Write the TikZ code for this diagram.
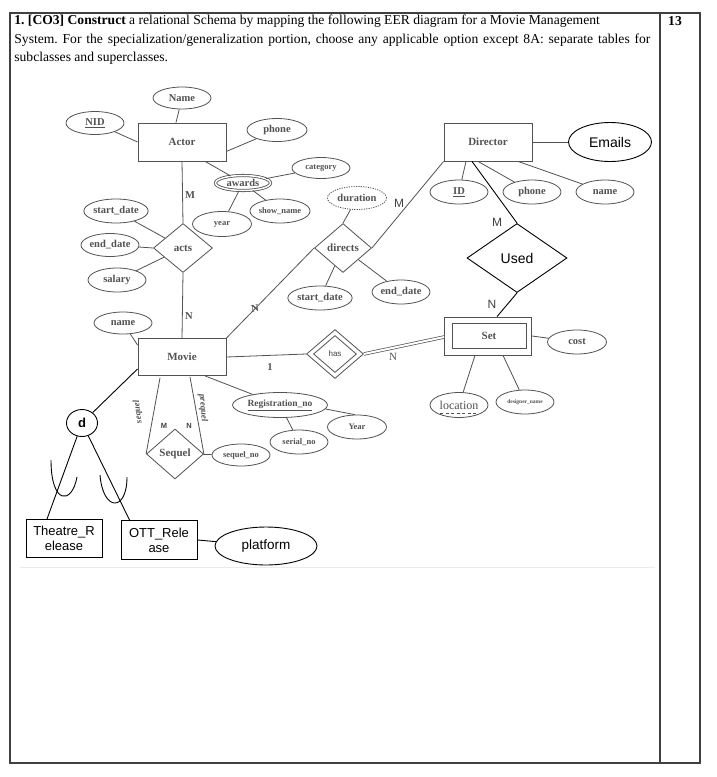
\documentclass[tikz,border=0pt]{standalone}
\usepackage{fontspec}
\setmainfont{Liberation Serif}
\newfontfamily\arialf{Liberation Sans}
\usetikzlibrary{shapes.geometric,calc}
\definecolor{gc}{gray}{0.32}
\definecolor{fc}{gray}{0.25}
\begin{document}
\frenchspacing
\begin{tikzpicture}[x=1pt,y=-1pt,line width=0.8pt,
  ent/.style={draw=gc,text=gc,rectangle,minimum width=88pt,minimum height=38pt,inner sep=0pt,font=\bfseries\fontsize{11}{12}\selectfont},
  att/.style={draw=gc,text=gc,ellipse,minimum width=58pt,minimum height=23pt,inner sep=0pt,font=\bfseries\fontsize{10.5}{12}\selectfont},
  smatt/.style={att,font=\bfseries\fontsize{8.5}{10}\selectfont},
  rel/.style={draw=gc,text=gc,diamond,minimum width=58pt,minimum height=49pt,inner sep=0pt,font=\bfseries\fontsize{11}{12}\selectfont},
  cn/.style={draw=gc,line width=0.8pt},
  dk/.style={draw=black,line width=0.9pt},
  sbox/.style={draw=black,rectangle,line width=0.9pt,inner sep=0pt,align=center,font=\arialf\fontsize{13}{15}\selectfont},
  lbl/.style={text=gc,inner sep=0pt,font=\bfseries\fontsize{10.5}{12}\selectfont},
  slbl/.style={text=fc,inner sep=0pt,font=\arialf\fontsize{11}{12}\selectfont},
  hdr/.style={anchor=west,inner sep=0pt,font=\fontsize{13.6}{15}\selectfont},
]
\useasboundingbox (0,0) rectangle (716,777);
\fill[white] (0,0) rectangle (716,777);
% frame
\draw[line width=1.1pt,draw=black!75] (10,13) rectangle (700,763);
\draw[line width=1.1pt,draw=black!75] (660,13) -- (660,763);
\draw[line width=0.6pt,draw=black!8] (20,567) -- (655,567);
% header
\node[hdr] (h1) at (14,21) {\textbf{1. [CO3] Construct} a relational Schema by mapping the following EER diagram for a Movie Management};
\node[hdr] (h2) at (14,40) {\makebox[636pt][s]{System. For the specialization/generalization portion, choose any applicable option except 8A: separate tables for}};
\node[hdr] (h3) at (14,58) {subclasses and superclasses.};
\node[inner sep=0pt,font=\bfseries\fontsize{13.6}{15}\selectfont] (marks) at (675,21) {13};

% Actor
\node[ent] (Actor) at (182,142) {Actor};
\node[att,minimum height=22pt] (Name) at (182,98) {Name};
\node[att] (NID) at (95,123) {\underline{NID}};
\node[att,minimum width=60pt] (aphone) at (277,130) {phone};
\node[draw=gc,text=gc,ellipse,double,double distance=1.5pt,minimum width=55pt,minimum height=15pt,inner sep=0pt,font=\bfseries\fontsize{10.5}{12}\selectfont] (awards) at (243,183) {awards};
\node[smatt,minimum height=21pt] (category) at (321,168) {category};
\node[smatt,minimum width=59pt,minimum height=24pt] (showname) at (280,211) {show\_name};
\node[smatt,minimum width=59pt,minimum height=25pt] (year) at (222,224) {year};
\node[rel,minimum width=59pt] (acts) at (183,248) {acts};
\node[att,minimum height=24pt] (sdate) at (116,211) {start\_date};
\node[att] (edate) at (110,245) {end\_date};
\node[att,minimum height=24pt] (salary) at (117,280) {salary};
\draw[cn] (NID) -- (Actor.west);
\draw[cn] (Name) -- ($(Actor.north)+(-6,0)$);
\draw[cn] (Actor.-12) -- (aphone);
\draw[cn] (Actor.-40) -- (awards);
\draw[cn] (awards) -- (category);
\draw[cn] (awards) -- (showname);
\draw[cn] (awards) -- (year);
\draw[cn] (Actor.south) -- (acts.north);
\draw[cn] (sdate) -- (acts);
\draw[cn] (edate) -- (acts.west);
\draw[cn] (salary) -- (acts);
\node[lbl] (lM1) at (190,195) {M};

% Movie
\node[ent,minimum height=37pt] (Movie) at (182,357) {Movie};
\node[att,minimum height=22pt] (mname) at (123,323) {name};
\draw[cn] (acts.south) -- (Movie.north);
\node[lbl] (lN1) at (189,316) {N};
\draw[cn] (mname) -- (Movie.165);

% specialization
\node[draw=black,ellipse,line width=0.9pt,minimum width=31pt,minimum height=27pt,inner sep=0pt,font=\arialf\bfseries\fontsize{13}{14}\selectfont] (d) at (82,423) {d};
\node[sbox,minimum width=76pt,minimum height=38pt] (Theatre) at (64,538) {Theatre\_R\\elease};
\node[sbox,minimum width=76pt,minimum height=39pt] (OTT) at (159,540) {OTT\_Rele\\ase};
\node[draw=black,ellipse,line width=0.9pt,minimum width=102pt,minimum height=38pt,inner sep=0pt,font=\arialf\fontsize{13.5}{15}\selectfont] (platform) at (266,546) {platform};
\coordinate (tA) at (47,519);
\coordinate (oA) at (130,521);
\draw[dk] (Movie.195) -- (d);
\draw[dk] (d) -- (tA);
\draw[dk] (d) -- (oA);
\draw[dk] (OTT.east) -- (platform);
\draw[dk] (51,460) .. controls (51,505) and (72,505) .. (77,477);
\draw[dk] (100,475) .. controls (103,512) and (127,512) .. (127,477);

% Sequel
\node[rel,minimum width=57pt,minimum height=50pt] (Sequel) at (175,454) {Sequel};
\node[smatt,minimum height=22pt] (seqno) at (241,455) {sequel\_no};
\draw[cn] ($(Movie.south)+(-22,2)$) -- (Sequel.west);
\draw[cn] ($(Movie.south)+(8,1)$) -- (Sequel.east);
\draw[cn] (Sequel) -- (seqno);
\node[text=gc,inner sep=0pt,rotate=97,font=\bfseries\itshape\fontsize{9}{10}\selectfont] (lsq) at (138,412) {sequel};
\node[text=gc,inner sep=0pt,rotate=-85,font=\bfseries\itshape\fontsize{9}{10}\selectfont] (lpq) at (203,408) {prequel};
\node[text=fc,inner sep=0pt,font=\arialf\bfseries\fontsize{7.5}{9}\selectfont] (lM3) at (164,426) {M};
\node[text=fc,inner sep=0pt,font=\arialf\bfseries\fontsize{7.5}{9}\selectfont] (lN3) at (189,426) {N};

% Registration
\node[att,minimum width=95pt,minimum height=25pt,font=\bfseries\fontsize{9.5}{11}\selectfont] (regno) at (280,405) {\underline{Registration\_no}};
\node[smatt,minimum height=24pt] (serialno) at (299,442) {serial\_no};
\node[smatt,minimum width=59pt,minimum height=24pt] (Year) at (357,427) {Year};
\draw[cn] ($(Movie.south)+(23,0)$) -- (regno);
\draw[cn] (regno) -- (serialno);
\draw[cn] (regno.-5) -- (Year.100);

% has / Set
\node[rel,minimum width=57pt,minimum height=49pt] (has) at (335,354) {};
\node[draw=gc,diamond,minimum width=43pt,minimum height=37pt,inner sep=0pt,text=fc,font=\arialf\fontsize{8}{9}\selectfont] (hasin) at (335,354) {has};
\node[ent,minimum width=87pt,minimum height=38pt] (Set) at (488,336) {};
\node[ent,minimum width=74pt,minimum height=25pt] (Setin) at (489,335.5) {Set};
\node[att,minimum width=59pt,minimum height=24pt] (cost) at (577,342) {cost};
\node[att,minimum height=25pt,font=\fontsize{12}{13}\selectfont] (location) at (459,405) {location};
\node[att,minimum height=24pt,font=\bfseries\fontsize{5.5}{7}\selectfont] (designer) at (525,402) {designer\_name};
\draw[cn] (Movie.east) -- (has.west);
\node[lbl] (l1) at (270,367) {1};
\draw[draw=gc,line width=0.7pt,double,double distance=2pt] (has.east) -- ($(Set.west)+(0,1)$);
\node[lbl,font=\fontsize{11}{12}\selectfont] (lN2) at (393,357) {N};
\draw[cn] (Set.east) -- (cost);
\draw[cn] ($(Set.south)+(-13,0)$) -- (location);
\draw[cn] ($(Set.south)+(15,0)$) -- (designer);
\draw[draw=gc,line width=0.8pt,dashed,dash pattern=on 3pt off 2.5pt] ($(location.center)+(-19,8.5)$) -- ($(location.center)+(19,8.5)$);

% Director
\node[ent] (Director) at (488,142) {Director};
\node[draw=black,ellipse,line width=0.9pt,minimum width=83pt,minimum height=39pt,inner sep=0pt,font=\arialf\fontsize{14}{15}\selectfont] (Emails) at (610,142) {Emails};
\node[att,minimum height=24pt] (ID) at (459,192) {\underline{ID}};
\node[att,minimum height=24pt] (dphone) at (532,192) {phone};
\node[att,minimum height=24pt] (dname) at (605,192) {name};
\draw[cn] (Director.east) -- (Emails);
\draw[cn] ($(Director.south)+(-22,0)$) -- (ID);
\draw[cn] ($(Director.south)+(-10,0)$) -- (dphone);
\draw[cn] ($(Director.south)+(30,0)$) -- (dname);
\node[draw=black,diamond,line width=0.9pt,minimum width=100pt,minimum height=69pt,inner sep=0pt,font=\arialf\fontsize{14}{15}\selectfont] (Used) at (517,258) {Used};
\draw[dk] ($(Director.south)+(-16,0)$) -- (Used.north);
\draw[dk] (Used.south) -- ($(Set.north)+(9,0)$);
\node[slbl,font=\arialf\fontsize{12}{13}\selectfont] (lM4) at (497,222) {M};
\node[slbl,font=\arialf\fontsize{12}{13}\selectfont] (lN4) at (492,304) {N};

% directs
\node[att,draw=gc,dash pattern=on 1.2pt off 1.2pt,minimum width=59pt] (duration) at (357,198) {duration};
\node[rel,minimum width=57pt] (directs) at (343,248) {directs};
\node[att,minimum width=57pt,minimum height=24pt] (dsdate) at (320,298) {start\_date};
\node[att,minimum height=24pt] (dedate) at (401,292) {end\_date};
\draw[cn] (duration) -- (directs.north);
\draw[cn] (directs.east) -- (Director.south west);
\draw[cn] (directs.west) -- (Movie.north east);
\draw[cn] (directs) -- (dsdate);
\draw[cn] (directs) -- (dedate);
\node[slbl,font=\arialf\fontsize{12}{13}\selectfont] (lM2) at (399,203) {M};
\node[lbl,rotate=10] (lN5) at (255,308) {N};
\end{tikzpicture}
\end{document}
